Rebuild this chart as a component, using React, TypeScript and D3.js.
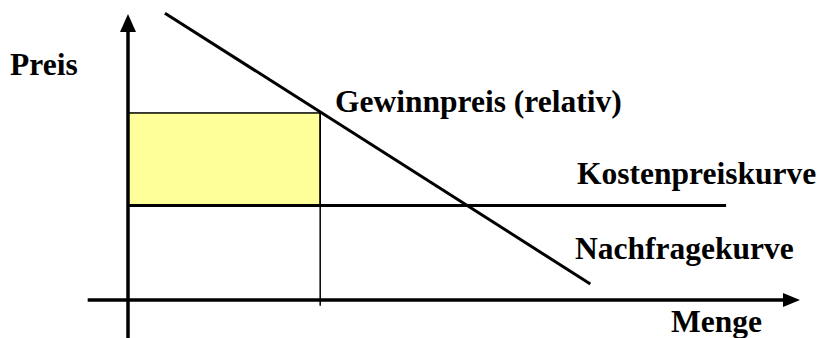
import React from "react";
import * as d3 from "d3";

// Domain units: Menge (x) 0..100, Preis (y) 0..100
const demandCurve: [number, number][] = [
  [5.5, 100.3],
  [68.8, 5.6],
];
const costPrice = 33; // Kostenpreis level
const costCurveEnd = 89; // where cost line ends (x)
const profitPrice = 65.4; // Gewinnpreis level
const soldQuantity = 28.6; // Menge at Gewinnpreis
const axisXRange: [number, number] = [-6, 100];
const axisYRange: [number, number] = [-13.6, 100];

const labels = {
  y: "Preis",
  x: "Menge",
  profit: "Gewinnpreis (relativ)",
  cost: "Kostenpreiskurve",
  demand: "Nachfragekurve",
};

export default function App() {
  const W = 820;
  const H = 338;
  const x = d3.scaleLinear().domain([0, 100]).range([128, 800]);
  const y = d3.scaleLinear().domain([0, 100]).range([300, 14]);
  const line = d3
    .line<[number, number]>()
    .x((d) => x(d[0]))
    .y((d) => y(d[1]));

  const textStyle: React.CSSProperties = {
    fontFamily: '"Liberation Serif", "Times New Roman", serif',
    fontWeight: 700,
    fontSize: "31.5px",
  };

  const xTip = x(axisXRange[1]);
  const yTip = y(axisYRange[1]);

  return (
    <svg
      width={W}
      height={H}
      style={{ position: "absolute", left: 0, top: 0, background: "#fff" }}
    >
      {/* profit rectangle */}
      <rect
        x={x(0)}
        y={y(profitPrice)}
        width={x(soldQuantity) - x(0)}
        height={y(costPrice) - y(profitPrice)}
        fill="#ffff99"
        stroke="#000"
        strokeWidth={1.5}
      />
      {/* vertical drop line */}
      <line
        x1={x(soldQuantity)}
        x2={x(soldQuantity)}
        y1={y(profitPrice)}
        y2={y(-2)}
        stroke="#000"
        strokeWidth={1.5}
      />
      {/* cost price curve */}
      <line
        x1={x(0)}
        x2={x(costCurveEnd)}
        y1={y(costPrice)}
        y2={y(costPrice)}
        stroke="#000"
        strokeWidth={3}
      />
      {/* demand curve */}
      <path d={line(demandCurve) || ""} stroke="#000" strokeWidth={3} fill="none" />
      {/* x axis */}
      <line
        x1={x(axisXRange[0])}
        x2={xTip - 14}
        y1={y(0)}
        y2={y(0)}
        stroke="#000"
        strokeWidth={3.5}
      />
      <path
        d={`M${xTip},${y(0)} L${xTip - 17},${y(0) - 7} L${xTip - 17},${y(0) + 7} Z`}
        fill="#000"
      />
      {/* y axis */}
      <line
        x1={x(0)}
        x2={x(0)}
        y1={y(axisYRange[0])}
        y2={yTip + 14}
        stroke="#000"
        strokeWidth={3.5}
      />
      <path
        d={`M${x(0)},${yTip} L${x(0) - 8},${yTip + 18} L${x(0) + 8},${yTip + 18} Z`}
        fill="#000"
      />
      {/* labels */}
      <text x={10} y={75} style={textStyle}>
        {labels.y}
      </text>
      <text x={335} y={112} style={textStyle}>
        {labels.profit}
      </text>
      <text x={577} y={184} style={textStyle}>
        {labels.cost}
      </text>
      <text x={575} y={259} style={textStyle}>
        {labels.demand}
      </text>
      <text x={671} y={332} style={textStyle}>
        {labels.x}
      </text>
    </svg>
  );
}
